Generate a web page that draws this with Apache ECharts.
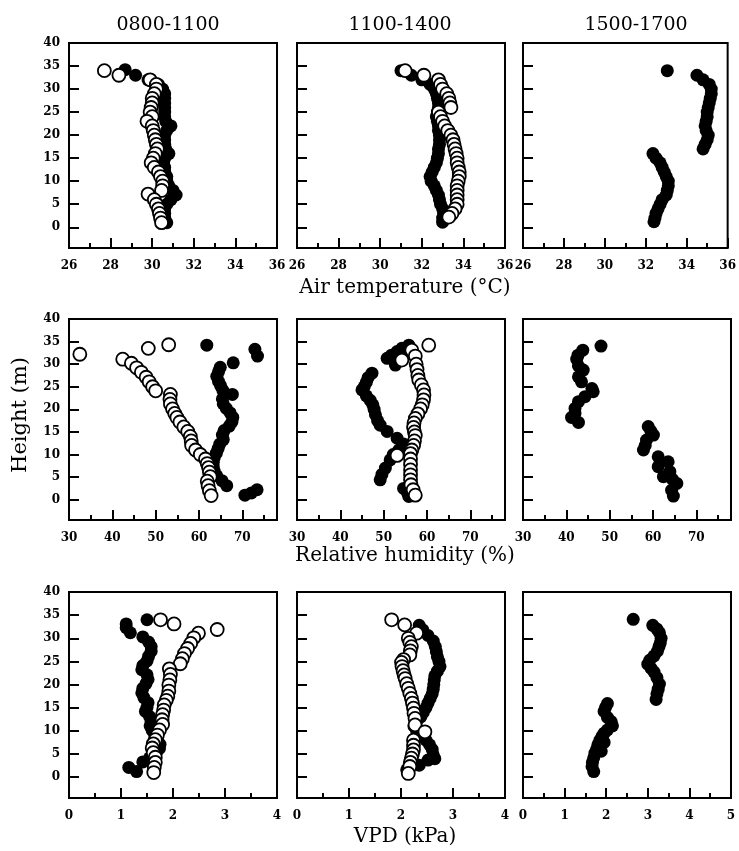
<!DOCTYPE html>
<html>
<head>
<meta charset="utf-8">
<title>Height profiles</title>
<script src="https://cdn.jsdelivr.net/npm/echarts@6/dist/echarts.min.js"></script>
<style>
    html, body { margin: 0; padding: 0; background: #fff; }
    #main { width: 739px; height: 851px; }
</style>
</head>
<body>
<div id="main"></div>
<script>
// 数据: [value, height (m)]
// air temperature (°C)
var tempAmFilled = [[28.7,34.2],[29.2,33],[29.8,32],[30.3,31],[30.5,30],[30.6,29],[30.6,28],[30.6,27],[30.6,26],[30.6,25],[30.6,24],[30.65,23],[30.9,22],[30.7,21],[30.6,20],[30.6,19],[30.6,18],[30.65,17],[30.8,16],[30.6,15],[30.55,14],[30.6,13],[30.6,12],[30.7,11],[30.7,10],[30.8,9],[31.0,8],[31.15,7],[30.9,6],[30.7,5],[30.6,4],[30.6,3],[30.6,2],[30.7,1]];
var tempAmOpen = [[27.7,34],[28.4,33],[29.9,32],[30.2,31],[30.2,30],[30.1,29],[30.0,28],[30.0,27],[29.95,26],[29.9,25],[30.0,24],[29.75,23],[30.0,22],[30.05,21],[30.1,20],[30.15,19],[30.2,18],[30.25,17],[30.15,16],[30.05,15],[29.95,14],[30.1,13],[30.3,12],[30.4,11],[30.5,10],[30.5,9],[30.45,8],[29.8,7.2],[30.1,6],[30.2,5],[30.3,4],[30.35,3],[30.4,2],[30.45,1]];
var tempMidFilled = [[31.0,34],[31.5,33],[32.0,32],[32.4,31],[32.6,30],[32.7,29],[32.75,28],[32.8,27],[32.8,26],[32.75,25],[32.7,24],[32.75,23],[32.8,22],[32.8,21],[32.85,20],[32.85,19],[32.85,18],[32.8,17],[32.8,16],[32.75,15],[32.7,14],[32.6,13],[32.5,12],[32.4,11],[32.45,10],[32.6,9],[32.7,8],[32.8,7],[32.85,6],[32.9,5],[33.0,4],[33.05,3],[33.0,2],[33.0,1.1]];
var tempMidOpen = [[31.2,34],[32.1,33],[32.8,32],[32.9,31],[33.0,30],[33.2,29],[33.3,28],[33.35,27],[33.4,26],[32.8,25],[32.9,24],[33.0,23],[33.1,22],[33.25,21],[33.4,20],[33.5,19],[33.55,18],[33.6,17],[33.65,16],[33.7,15],[33.7,14],[33.75,13],[33.8,12],[33.8,11],[33.75,10],[33.7,9],[33.7,8],[33.7,7],[33.7,6],[33.7,5],[33.6,4],[33.45,3],[33.3,2.2]];
var tempPmFilled = [[33.05,34],[34.5,33],[34.8,32],[35.1,31],[35.2,30],[35.2,29],[35.15,28],[35.1,27],[35.05,26],[35.0,25],[35.0,24],[34.95,23],[34.9,22],[34.95,21],[35.05,20],[35.0,19],[34.9,18],[34.8,17],[32.35,16],[32.5,15],[32.7,14],[32.8,13],[32.9,12],[33.0,11],[33.1,10],[33.1,9],[33.05,8],[33.0,7],[32.8,6],[32.7,5],[32.6,4],[32.5,3],[32.45,2],[32.4,1.2]];

// relative humidity (%)
var rhAmFilled = [[61.8,34.2],[72.9,33.3],[73.5,31.8],[67.9,30.3],[64.9,29.3],[64.5,28.3],[64.1,27.3],[64.5,26.2],[65.0,25.2],[65.5,24.2],[67.7,23.3],[65.4,22.3],[65.6,21.2],[66.3,20.2],[67.2,19.2],[67.8,18.2],[67.6,17.2],[67.0,16.3],[65.8,15.3],[65.4,14.3],[65.6,13.3],[64.8,12.3],[64.4,11.3],[64.0,10.3],[63.5,9.3],[63.3,8.3],[63.3,7.3],[63.5,6.3],[64.1,5.3],[65.3,4.2],[66.4,3.1],[73.4,2.2],[72.1,1.5],[70.6,1.0]];
var rhAmOpen = [[53.0,34.3],[48.3,33.5],[32.5,32.2],[42.4,31.1],[44.4,30.2],[45.6,29.2],[46.7,28.2],[47.8,27.1],[48.5,26.1],[49.3,25.0],[50.0,24.1],[53.4,23.3],[53.3,22.2],[53.4,21.2],[53.9,20.1],[54.4,19.1],[54.9,18.2],[55.6,17.2],[56.5,16.1],[57.4,15.1],[58.0,14.0],[58.2,13.0],[58.3,12.0],[59.2,11.0],[60.3,10.0],[61.5,9.0],[61.9,8.0],[62.2,7.1],[62.4,6.1],[62.6,5.1],[61.9,4.1],[62.1,3.1],[62.4,2.0],[62.8,0.9]];
var rhMidFilled = [[55.8,34.2],[54.2,33.5],[53.1,32.8],[51.8,32],[50.8,31.3],[52.7,29.8],[47.3,28],[46.4,27],[46.0,26],[45.5,25],[45.0,24.3],[46.0,23],[46.9,22],[47.5,21],[47.8,20],[48.1,18.8],[48.6,17.5],[49.2,16.5],[50.8,15.1],[53.1,13.6],[54.6,12.3],[53.5,11],[52.2,10],[51.5,8.8],[50.4,7],[49.6,5.6],[49.2,4.4],[54.6,2.5],[55.5,1.5],[55.8,0.7]];
var rhMidOpen = [[60.4,34.2],[56.5,33.1],[57.3,31.8],[54.2,30.9],[57.5,30],[57.7,28.8],[57.9,27.5],[58.1,26.5],[58.7,25.4],[59.2,24.3],[59.3,23.2],[59.2,22.1],[58.9,21],[58.5,20.1],[57.9,19],[57.3,18],[57.0,17],[56.9,16],[57.1,15],[57.3,14.2],[57.1,13],[56.9,12],[56.5,11],[56.2,10.2],[53.1,9.8],[56.2,9],[56.2,7.8],[56.2,6.6],[56.2,5.5],[56.2,4.4],[56.3,3.3],[56.8,2.2],[57.3,1]];
var rhPmFilled = [[48.0,34],[43.8,33.1],[42.7,32],[42.4,31.1],[42.8,29.6],[43.9,28.7],[42.8,27.2],[43.5,26.1],[45.9,24.6],[46.2,23.9],[44.3,22.8],[42.8,21.7],[42.0,20.2],[42.0,19.1],[41.2,18.2],[42.8,17.1],[58.9,16.2],[59.5,15.2],[60.1,14.3],[58.5,13.2],[58.2,12],[57.8,11],[61.2,9.5],[63.5,8.4],[61.2,7.3],[63.9,6.2],[62.4,5.1],[64.5,4.5],[65.5,3.6],[64.3,2.1],[64.7,0.8]];

// VPD (kPa)
var vpdAmFilled = [[1.50,34.0],[1.10,33.1],[1.10,32.3],[1.18,31.2],[1.42,30.3],[1.53,29.2],[1.58,28.2],[1.58,27.2],[1.53,26.1],[1.50,25.1],[1.42,24.1],[1.40,23.2],[1.50,22.1],[1.52,21.1],[1.48,20.2],[1.42,19.2],[1.40,18.2],[1.44,17.2],[1.52,16.1],[1.50,15.1],[1.47,14.2],[1.55,13.1],[1.58,12.1],[1.56,11.1],[1.60,10.1],[1.65,9.1],[1.70,8.1],[1.75,7.1],[1.74,6.2],[1.68,5.2],[1.55,4.2],[1.42,3.3],[1.15,2.1],[1.30,1.2]];
var vpdAmOpen = [[1.76,34.0],[2.02,33.1],[2.85,31.9],[2.49,31.1],[2.40,30.1],[2.34,28.9],[2.28,27.8],[2.22,26.7],[2.18,25.6],[2.14,24.5],[1.93,23.4],[1.95,22.2],[1.94,21.0],[1.92,19.9],[1.92,18.6],[1.90,17.5],[1.87,16.6],[1.83,15.6],[1.82,14.5],[1.80,13.5],[1.79,12.4],[1.80,11.4],[1.74,10.2],[1.70,9.1],[1.66,8.1],[1.62,7.2],[1.60,6.3],[1.62,5.3],[1.66,4.3],[1.66,3.2],[1.64,2.1],[1.63,1.0]];
var vpdMidFilled = [[2.35,32.8],[2.42,31.8],[2.52,30.6],[2.62,29.4],[2.66,28.2],[2.68,27.1],[2.70,26.0],[2.73,25.0],[2.75,23.9],[2.70,22.9],[2.65,21.9],[2.64,21.0],[2.63,20.0],[2.62,19.0],[2.60,18.0],[2.56,17.0],[2.52,16.0],[2.48,15.0],[2.43,14.0],[2.38,13.0],[2.30,12.0],[2.25,11.0],[2.30,10.0],[2.40,9.0],[2.48,8.0],[2.55,7.0],[2.60,6.0],[2.62,4.8],[2.65,4.0],[2.52,3.7],[2.35,2.6],[2.11,1.6]];
var vpdMidOpen = [[1.82,34.0],[2.07,32.9],[2.30,31.1],[2.14,30.0],[2.17,29.1],[2.20,28.2],[2.18,27.3],[2.17,26.4],[2.05,25.4],[2.01,24.8],[2.02,23.9],[2.04,23.0],[2.06,22.1],[2.08,21.3],[2.11,20.2],[2.14,19.2],[2.17,18.1],[2.20,17.0],[2.22,16.0],[2.24,14.9],[2.25,13.8],[2.27,12.7],[2.27,11.3],[2.46,9.8],[2.24,8.0],[2.24,6.9],[2.24,5.9],[2.22,5.0],[2.20,4.1],[2.18,3.2],[2.17,2.3],[2.14,0.8]];
var vpdPmFilled = [[2.65,34.1],[3.12,32.8],[3.22,32],[3.28,31.2],[3.32,30],[3.30,29],[3.27,28.2],[3.23,27.2],[3.15,26.2],[3.05,25.3],[3.0,24.4],[3.08,23.5],[3.15,22.7],[3.22,21.5],[3.28,20.1],[3.25,19],[3.22,18],[3.2,16.8],[2.03,15.9],[1.98,15],[1.95,14.2],[2.03,12.9],[2.12,12],[2.15,11.1],[2.03,10.2],[1.95,9.5],[1.90,8.8],[1.85,8.0],[1.95,7.5],[1.80,7],[1.77,6],[1.88,5.6],[1.73,5.2],[1.70,4.2],[1.67,3.2],[1.66,2.3],[1.70,1.2]];

// 刻度
var tempTicks = [26, 28, 30, 32, 34, 36];
var tempMinor = [27, 29, 31, 33, 35];
var rhTicks = [30, 40, 50, 60, 70];
var rhMinor = [35, 45, 55, 65, 75];
var vpdTicks = [0, 1, 2, 3, 4];
var vpdMinor = [0.5, 1.5, 2.5, 3.5];
var vpdPmTicks = [0, 1, 2, 3, 4, 5];
var vpdPmMinor = [0.5, 1.5, 2.5, 3.5, 4.5];
var heightTicks = [0, 5, 10, 15, 20, 25, 30, 35, 40];

var periods = ['0800-1100', '1100-1400', '1500-1700'];
var xNames = ['Air temperature (°C)', 'Relative humidity (%)', 'VPD (kPa)'];

window.onload = function () {
    var chart = echarts.init(document.getElementById('main'));
    var serif = 'DejaVu Serif';

    var colLeft = [69, 297, 523];
    var rowTop = [43, 319, 592];
    var rowHeight = [205, 201, 206];

    var panels = [
        {filled: tempAmFilled, open: tempAmOpen, min: 26, max: 36, major: tempTicks, minor: tempMinor},
        {filled: tempMidFilled, open: tempMidOpen, min: 26, max: 36, major: tempTicks, minor: tempMinor},
        {filled: tempPmFilled, open: null, min: 26, max: 36, major: tempTicks, minor: tempMinor},
        {filled: rhAmFilled, open: rhAmOpen, min: 30, max: 78, major: rhTicks, minor: rhMinor},
        {filled: rhMidFilled, open: rhMidOpen, min: 30, max: 78, major: rhTicks, minor: rhMinor},
        {filled: rhPmFilled, open: null, min: 30, max: 78, major: rhTicks, minor: rhMinor},
        {filled: vpdAmFilled, open: vpdAmOpen, min: 0, max: 4, major: vpdTicks, minor: vpdMinor},
        {filled: vpdMidFilled, open: vpdMidOpen, min: 0, max: 4, major: vpdTicks, minor: vpdMinor},
        {filled: vpdPmFilled, open: null, min: 0, max: 5, major: vpdPmTicks, minor: vpdPmMinor}
    ];

    var grids = [], xAxes = [], yAxes = [], series = [];

    for (var i = 0; i < panels.length; i++) {
        var p = panels[i];
        var row = Math.floor(i / 3), col = i % 3;

        grids.push({
            left: colLeft[col], top: rowTop[row], width: 208, height: rowHeight[row],
            show: true, borderColor: '#000', borderWidth: 2, backgroundColor: 'transparent'
        });

        //主刻度 + 标签
        xAxes.push({
            type: 'value', gridIndex: i, min: p.min, max: p.max, position: 'bottom',
            axisLine: {show: false, onZero: false}, splitLine: {show: false},
            axisTick: {show: true, inside: true, length: 10, customValues: p.major, lineStyle: {color: '#000', width: 2}},
            axisLabel: {customValues: p.major, margin: 12, color: '#000', fontFamily: serif, fontWeight: 'bold', fontSize: 12}
        });
        //次刻度
        xAxes.push({
            type: 'value', gridIndex: i, min: p.min, max: p.max, position: 'bottom',
            axisLine: {show: false, onZero: false}, splitLine: {show: false},
            axisTick: {show: true, inside: true, length: 5, customValues: p.minor, lineStyle: {color: '#000', width: 2}},
            axisLabel: {show: false}
        });

        yAxes.push({
            type: 'value', gridIndex: i, min: -4.5, max: 40,
            axisLine: {show: false, onZero: false}, splitLine: {show: false},
            axisTick: {show: true, inside: true, length: 10, customValues: heightTicks, lineStyle: {color: '#000', width: 2}},
            axisLabel: {show: col === 0, customValues: heightTicks, margin: 9, color: '#000', fontFamily: serif, fontWeight: 'bold', fontSize: 12}
        });

        series.push({
            type: 'scatter', xAxisIndex: i * 2, yAxisIndex: i,
            symbol: 'circle', symbolSize: 13,
            itemStyle: {color: '#000', opacity: 1},
            data: p.filled
        });
        if (p.open) {
            series.push({
                type: 'scatter', xAxisIndex: i * 2, yAxisIndex: i,
                symbol: 'circle', symbolSize: 13,
                itemStyle: {color: '#fff', borderColor: '#000', borderWidth: 1.8, opacity: 1},
                data: p.open
            });
        }
    }

    var titleX = [168, 400, 636];
    var nameY = [288, 556, 837];
    var graphics = [];
    for (var k = 0; k < 3; k++) {
        graphics.push({
            type: 'text', x: titleX[k], y: 25,
            style: {text: periods[k], fill: '#000', font: '19px "DejaVu Serif"', textAlign: 'center', textVerticalAlign: 'middle', align: 'center', verticalAlign: 'middle'}
        });
        graphics.push({
            type: 'text', x: 405, y: nameY[k],
            style: {text: xNames[k], fill: '#000', font: '20px "DejaVu Serif"', textAlign: 'center', textVerticalAlign: 'middle', align: 'center', verticalAlign: 'middle'}
        });
    }
    graphics.push({
        type: 'text', x: 21, y: 415, rotation: Math.PI / 2,
        style: {text: 'Height (m)', fill: '#000', font: '21px "DejaVu Serif"', textAlign: 'center', textVerticalAlign: 'middle', align: 'center', verticalAlign: 'middle'}
    });

    var option = {
        animation: false,
        backgroundColor: '#fff',
        grid: grids,
        xAxis: xAxes,
        yAxis: yAxes,
        graphic: graphics,
        series: series
    };

    chart.setOption(option);
};
</script>
</body>
</html>
